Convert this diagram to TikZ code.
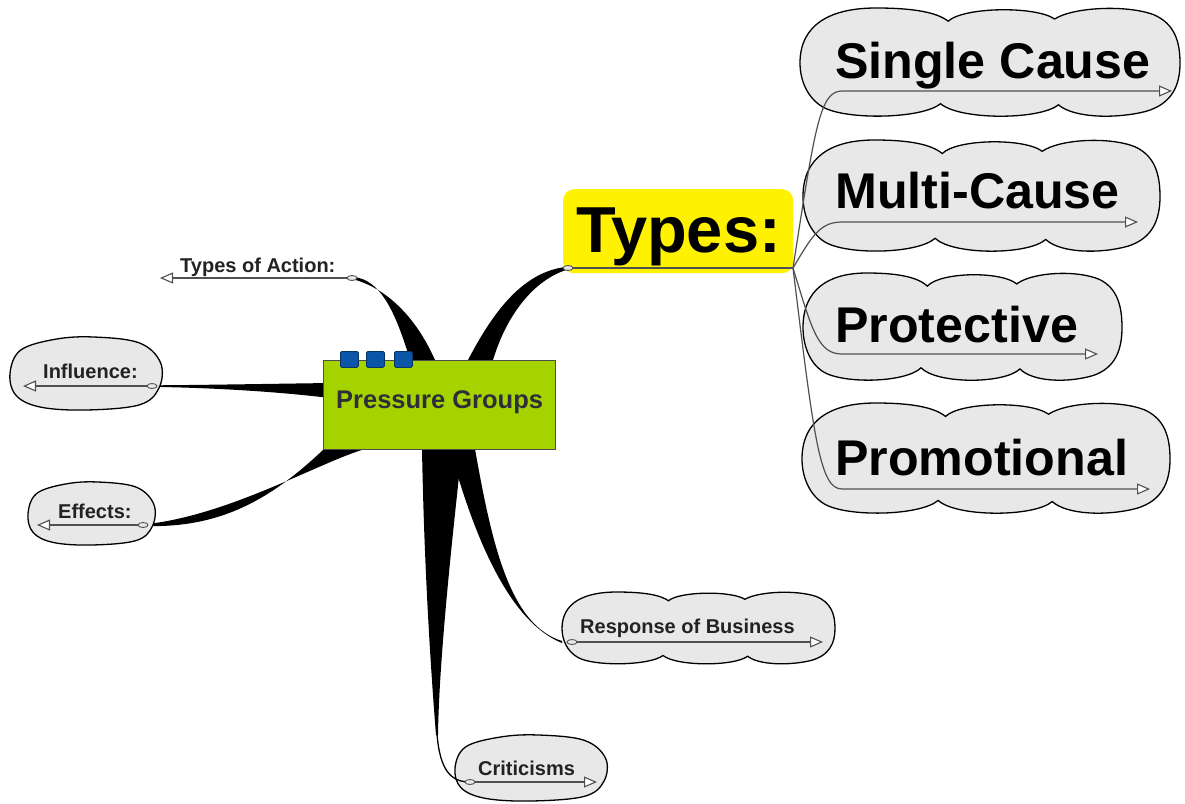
\documentclass[tikz,border=0pt]{standalone}
\usepackage{fontspec}
\setmainfont{Liberation Sans}
\usetikzlibrary{arrows.meta}
\definecolor{pgreen}{HTML}{A5D300}
\definecolor{pblue}{HTML}{0B56A8}
\definecolor{cloudfill}{HTML}{E8E8E8}
\definecolor{linegray}{HTML}{505050}
\definecolor{pgtext}{HTML}{2E2E3A}
\definecolor{smalltext}{HTML}{222222}
\tikzset{
  cloudsty/.style={draw=black, line width=1.3pt, fill=cloudfill},
  wedge/.style={fill=black, draw=none},
  uline/.style={draw=linegray, line width=1.2pt, -{Triangle[open, length=13pt, width=11pt, fill=white, line width=1.1pt]}},
  tline/.style={draw=linegray, line width=1.2pt},
  thinblk/.style={draw=black, line width=1.3pt},
  dotc/.style={draw=linegray, fill=cloudfill, line width=0.9pt},
  bigtxt/.style={font=\fontsize{50.2}{56}\bfseries\selectfont, inner sep=0pt, text=black},
  typestxt/.style={font=\fontsize{65}{70}\bfseries\selectfont, inner sep=0pt, text=black},
  pgtxt/.style={font=\fontsize{25.5}{30}\bfseries\selectfont, inner sep=0pt, text=pgtext},
  smtxt/.style={font=\fontsize{20}{24}\bfseries\selectfont, inner sep=0pt, text=smalltext},
  pgbox/.style={draw=gray!60!black, line width=1pt, fill=pgreen, minimum width=232pt, minimum height=89pt, inner sep=0pt},
  sqbox/.style={draw=pblue!60!black, line width=0.8pt, fill=pblue, minimum width=18pt, minimum height=16pt, inner sep=0pt, rounded corners=1.5pt},
  typesbox/.style={fill=yellow, draw=none, rounded corners=11pt, minimum width=230pt, minimum height=84pt, inner sep=0pt}
}
\newcommand\bigcloud[4]{\begin{scope}[shift={(#1,#2)},xscale=#3,yscale=#4]
  \path[cloudsty] (0,0.5) .. controls (0,0.15) and (0.08,0.0) .. (0.2,0.0)
    .. controls (0.3,0.0) and (0.36,0.04) .. (0.39,0.12)
    .. controls (0.43,-0.01) and (0.62,-0.02) .. (0.67,0.1)
    .. controls (0.72,-0.01) and (0.86,-0.03) .. (0.93,0.06)
    .. controls (0.985,0.14) and (1.0,0.3) .. (1.0,0.5)
    .. controls (1.0,0.7) and (0.98,0.87) .. (0.91,0.94)
    .. controls (0.83,1.01) and (0.72,1.0) .. (0.68,0.88)
    .. controls (0.63,1.02) and (0.42,1.02) .. (0.37,0.87)
    .. controls (0.32,1.01) and (0.12,1.02) .. (0.06,0.9)
    .. controls (0.02,0.82) and (0,0.66) .. (0,0.5) -- cycle;
\end{scope}}
\newcommand\smallcloud[4]{\begin{scope}[shift={(#1,#2)},xscale=#3,yscale=#4]
  \path[cloudsty] plot[smooth cycle, tension=0.6] coordinates {(0,0.5) (0.07,0.18) (0.3,0.03) (0.55,0.0) (0.85,0.08) (0.99,0.35) (0.98,0.7) (0.85,0.93) (0.5,1.0) (0.2,0.96) (0.04,0.8)};
\end{scope}}
\begin{document}
\begin{tikzpicture}[x=1pt,y=-1pt]
\fill[white] (0,0) rectangle (1185,803);
\useasboundingbox (0,0) rectangle (1185,803);
% connection points
\coordinate (tA) at (352,278);
\coordinate (tAend) at (160,278);
\coordinate (inf) at (152,386);
\coordinate (infend) at (23,386);
\coordinate (eff) at (143,525);
\coordinate (effend) at (37,525);
\coordinate (resp) at (572,642);
\coordinate (respend) at (823,642);
\coordinate (crit) at (470,782);
\coordinate (critend) at (597,782);
\coordinate (typ) at (568,268);
\coordinate (typout) at (793,268);
% tapered branches
\fill[wedge] (462,372) -- (468,360) .. controls (490,318) and (520,272) .. (566,267) -- (566,270) .. controls (530,282) and (505,320) .. (493,360) -- (490,372) -- cycle;
\fill[wedge] (413,372) -- (410,360) .. controls (395,310) and (380,280) .. (354,277) -- (354,279.5) .. controls (385,288) and (415,315) .. (435,360) -- (438,372) -- cycle;
\fill[wedge] (330,383) .. controls (260,384) and (200,385) .. (156,385.3) -- (156,386.9) .. controls (220,388) and (280,392) .. (330,398) -- cycle;
\fill[wedge] (365,449) .. controls (320,462) and (230,515) .. (146,524.2) -- (146,526) .. controls (220,528) and (270,500) .. (323,450) -- (323,445) -- (365,445) -- cycle;
\fill[wedge] (450,440) -- (475,440) -- (475,449) .. controls (492,545) and (510,625) .. (562,641) -- (562,643) .. controls (510,622) and (475,540) .. (450,449) -- cycle;
\fill[wedge] (422,440) -- (462,440) -- (462,449) .. controls (452,540) and (439,660) .. (438,735) -- (436,735) .. controls (430,660) and (424,560) .. (422,449) -- cycle;
% clouds
\bigcloud{800}{8}{380}{110}
\bigcloud{803}{140}{357}{113}
\bigcloud{803}{273}{319}{109}
\bigcloud{802}{403}{368}{112}
\bigcloud{562}{592}{273}{73}
\smallcloud{10}{337}{152}{73}
\smallcloud{28}{482}{127}{63}
\smallcloud{455}{735}{152}{66}
% central and Types boxes
\node[pgbox, anchor=north west] (pg) at (323,360) {};
\node[sqbox, anchor=north west] (sq1) at (340,351) {};
\node[sqbox, anchor=north west] (sq2) at (366,351) {};
\node[sqbox, anchor=north west] (sq3) at (394,351) {};
\node[typesbox, anchor=north west] (tbox) at (563,189) {};
% connectors and underlines
\draw[thinblk] (437,734) .. controls (440,772) and (452,782) .. (crit);
\draw[tline] (typ) -- (typout);
\draw[uline] (tA) -- (tAend);
\draw[uline] (inf) -- (infend);
\draw[uline] (eff) -- (effend);
\draw[uline] (resp) -- (respend);
\draw[uline] (crit) -- (critend);
\draw[uline] (typout) .. controls (815,126) and (820,91) .. (842,91) -- (1172,91);
\draw[uline] (typout) .. controls (812,236) and (820,222) .. (842,222) -- (1138,222);
\draw[uline] (typout) .. controls (812,330) and (818,354) .. (842,354) -- (1098,354);
\draw[uline] (typout) .. controls (814,440) and (820,489) .. (842,489) -- (1150,489);
\foreach \p in {tA,inf,eff,resp,crit,typ}{\draw[dotc] (\p) ellipse [x radius=5pt, y radius=2.5pt];}
% texts
\node[bigtxt, anchor=base west] (sc) at (835,78) {Single Cause};
\node[bigtxt, anchor=base west] (mc) at (835,208) {Multi-Cause};
\node[bigtxt, anchor=base west] (pr) at (835,342) {Protective};
\node[bigtxt, anchor=base west] (pm) at (835,475) {Promotional};
\node[typestxt, anchor=base west] (types) at (576,252) {Types:};
\node[pgtxt, anchor=base west] (pgt) at (336,408) {Pressure Groups};
\node[smtxt, anchor=base west] (ta) at (180,272) {Types of Action:};
\node[smtxt, anchor=base west] (in) at (43,378) {Influence:};
\node[smtxt, anchor=base west] (ef) at (58,518) {Effects:};
\node[smtxt, anchor=base west] (rb) at (580,633) {Response of Business};
\node[smtxt, anchor=base west] (cr) at (478,775) {Criticisms};
\end{tikzpicture}
\end{document}
